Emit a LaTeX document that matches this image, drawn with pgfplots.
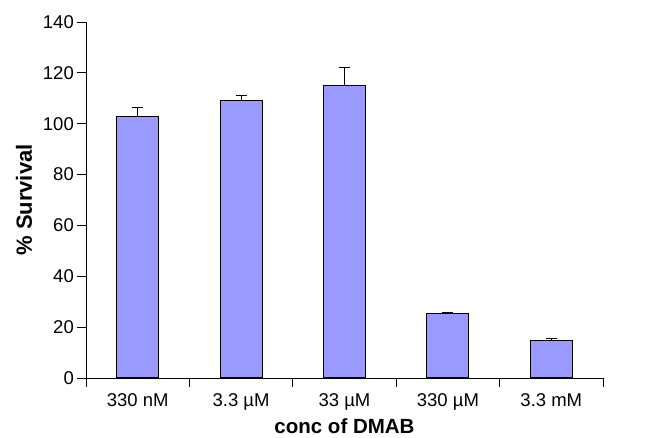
\documentclass[border=0pt]{standalone}
\usepackage{pgfplots}
\pgfplotsset{compat=1.18}
\usepackage{fontspec}
\setmainfont{Liberation Sans}
\definecolor{barfill}{HTML}{9999FF}
\begin{document}
\begin{tikzpicture}
\begin{axis}[
  at={(0,0)}, anchor=south west,
  width=517pt, height=356pt, scale only axis,
  axis lines*=left,
  ymin=0, ymax=140, ytick={0,20,...,140},
  xmin=-0.5, xmax=4.5,
  xtick={0,1,2,3,4},
  xticklabels={330 nM, 3.3 µM, 33 µM, 330 µM, 3.3 mM},
  minor xtick={-0.5,0.5,1.5,2.5,3.5,4.5},
  major x tick style={draw=none},
  tick align=outside,
  major tick length=9pt, minor tick length=9pt,
  tick style={black, line width=0.8pt},
  axis line style={black, line width=0.8pt},
  /pgf/number format/assume math mode=true,
  ticklabel style={font=\fontsize{18.5}{18.5}\selectfont},
  yticklabel style={inner sep=3pt},
  xticklabel style={anchor=north, yshift=-3pt},
  every axis x label/.style={at={(axis description cs:0.5,0)}, yshift=-48pt, anchor=center, font=\fontsize{20.5}{20.5}\selectfont\bfseries},
  every axis y label/.style={at={(axis description cs:0,0.5)}, xshift=-62pt, rotate=90, anchor=center, font=\fontsize{22}{22}\selectfont\bfseries},
  xlabel={conc of DMAB},
  ylabel={\% Survival},
  clip=false,
]
\addplot[ybar, bar width=42pt, fill=barfill, draw=black, line width=1.1pt,
  error bars/.cd, y dir=plus, y explicit,
  error bar style={black, line width=1pt},
  error mark options={rotate=90, mark size=5.5pt, line width=1pt, black}]
  table[x=x, y=y, y error=e] {
x y e
0 103.0 3.2
1 109.3 1.7
2 115.2 6.8
3 25.2 0.6
4 14.8 0.9
};
\end{axis}
\pgfresetboundingbox
\path (-86pt,-60pt) rectangle (564pt,378pt);
\end{tikzpicture}
\end{document}
